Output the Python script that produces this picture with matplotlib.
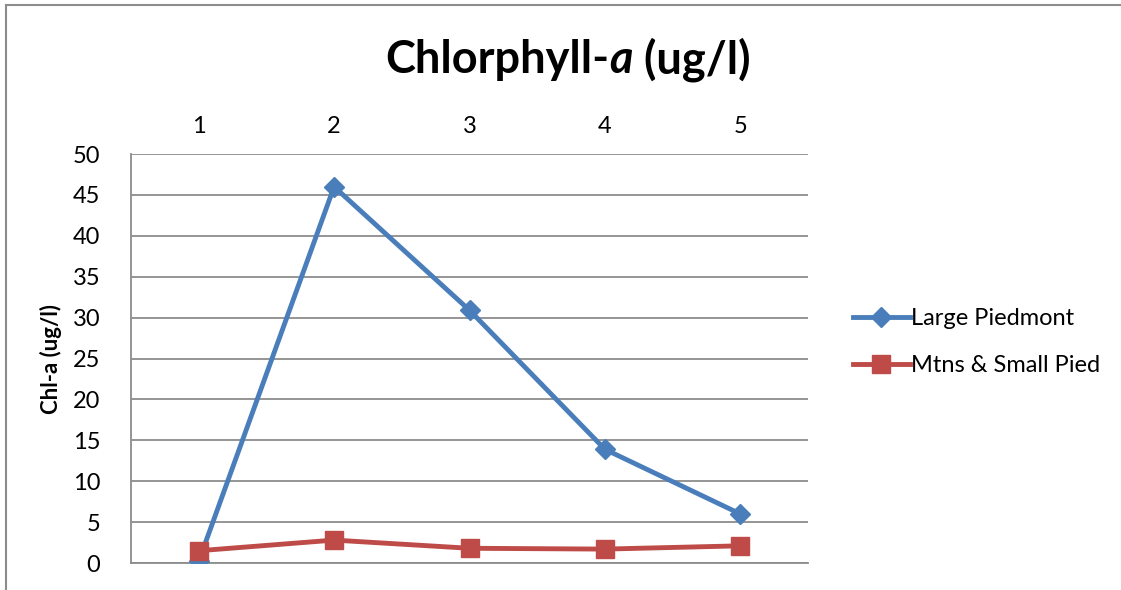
import matplotlib
matplotlib.use("Agg")
from matplotlib import pyplot as plt
from matplotlib.lines import Line2D

# Chart data
categories = ["1", "2", "3", "4", "5"]
large_piedmont = [0.2, 46.0, 30.9, 13.9, 6.0]
mtns_small_pied = [1.5, 2.8, 1.8, 1.7, 2.1]
y_ticks = [0, 5, 10, 15, 20, 25, 30, 35, 40, 45, 50]

blue = "#4A7EBB"
red = "#BE4B48"
grid_col = "#8C8C8C"

plt.rcParams["font.family"] = ["Lato", "DejaVu Sans"]

W, H = 1121, 590
fig = plt.figure(figsize=(W / 100, H / 100), dpi=100)

# outer chart frame (only top and left edges are inside the picture)
fig.add_artist(Line2D([6 / W, 6 / W], [0, 1 - 5 / H], color="#8C8C8C", lw=1.5))
fig.add_artist(Line2D([6 / W, 1], [1 - 5 / H, 1 - 5 / H], color="#8C8C8C", lw=1.5))

# plot area in pixels: left 131, right 808, top 154, bottom 563
ax = fig.add_axes([131 / W, 1 - 563 / H, (808 - 131) / W, (563 - 154) / H])

x = list(range(1, len(categories) + 1))
ax.plot(x, large_piedmont, color=blue, lw=3.5, marker="D", markersize=10,
        label="Large Piedmont", zorder=3)
ax.plot(x, mtns_small_pied, color=red, lw=3.5, marker="s", markersize=13.5,
        label="Mtns & Small Pied", zorder=4)

ax.set_xlim(0.5, len(categories) + 0.5)
ax.set_ylim(0, 50)
ax.set_yticks(y_ticks)
ax.set_yticklabels([str(v) for v in y_ticks], fontsize=17)
ax.set_xticks(x)
ax.set_xticklabels(categories, fontsize=17)
ax.xaxis.tick_top()
ax.tick_params(axis="y", length=0, pad=22)
ax.tick_params(axis="x", length=0, pad=12)
ax.grid(axis="y", color=grid_col, lw=1.3)
ax.set_axisbelow(True)
for side in ["top", "right"]:
    ax.spines[side].set_visible(False)
for side in ["left", "bottom"]:
    ax.spines[side].set_color(grid_col)
    ax.spines[side].set_linewidth(1.3)

ax.set_ylabel("Chl-a (ug/l)", fontsize=16, fontweight="bold", labelpad=8)

leg = ax.legend(loc="center left", bbox_to_anchor=(1.035, 0.54), frameon=False,
                fontsize=17, handlelength=2.4, handletextpad=0.05,
                labelspacing=1.1)

# title with italic "a", built from three pieces
fig.canvas.draw()
renderer = fig.canvas.get_renderer()
parts = [("Chlorphyll-", "normal"), ("a", "italic"), (" (ug/l)", "normal")]
texts = []
for s, style in parts:
    t = fig.text(0, 0, s, fontsize=32.5, fontweight="bold", style=style,
                 va="baseline", ha="left")
    texts.append(t)
widths = [t.get_window_extent(renderer).width for t in texts]
total = sum(widths)
cx = 568 / W
x0 = cx * W - total / 2
ybase = 1 - 73 / H
for t, w in zip(texts, widths):
    t.set_position((x0 / W, ybase))
    x0 += w

fig.savefig("out.png", dpi=100)
